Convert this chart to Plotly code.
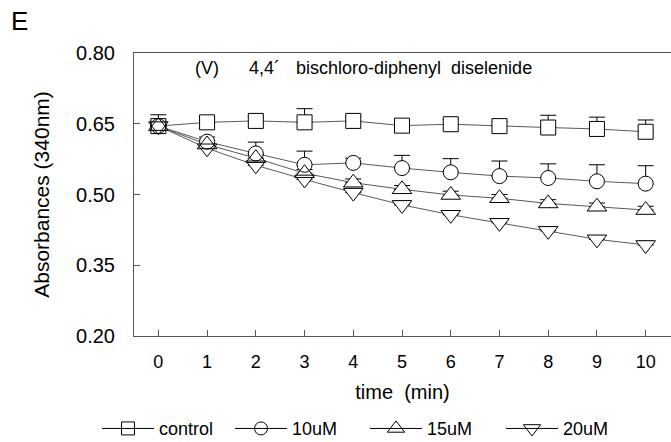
import plotly.graph_objects as go

# ---- data ----
time_min = [0, 1, 2, 3, 4, 5, 6, 7, 8, 9, 10]
x_ticks = [0, 1, 2, 3, 4, 5, 6, 7, 8, 9, 10]
y_ticks = [0.20, 0.35, 0.50, 0.65, 0.80]

series_names = ["control", "10uM", "15uM", "20uM"]
control = [0.645, 0.653, 0.656, 0.653, 0.656, 0.646, 0.649, 0.645, 0.642, 0.639, 0.633]
uM10 = [0.645, 0.612, 0.587, 0.563, 0.567, 0.556, 0.547, 0.539, 0.535, 0.528, 0.523]
uM15 = [0.645, 0.606, 0.577, 0.545, 0.525, 0.511, 0.499, 0.492, 0.481, 0.474, 0.467]
uM20 = [0.645, 0.598, 0.562, 0.532, 0.504, 0.478, 0.457, 0.440, 0.423, 0.405, 0.393]

err_control = [0.024, 0.010, 0.010, 0.029, 0.010, 0.010, 0.010, 0.010, 0.026, 0.025, 0.025]
err_10uM = [0.010, 0.010, 0.024, 0.029, 0.010, 0.027, 0.029, 0.032, 0.030, 0.035, 0.038]
err_15uM = [0.010, 0.008, 0.008, 0.008, 0.008, 0.008, 0.008, 0.008, 0.008, 0.008, 0.008]
err_20uM = [0.010, 0.008, 0.008, 0.008, 0.008, 0.008, 0.008, 0.008, 0.008, 0.008, 0.008]

values = [control, uM10, uM15, uM20]
errors = [err_control, err_10uM, err_15uM, err_20uM]
symbols = ["square", "circle", "triangle-up", "triangle-down"]
sizes = [15, 15, 17, 17]

FONT = "Liberation Sans, Arial, sans-serif"
LINE_GRAY = "#5a5a5a"
AXIS_GRAY = "#555555"

fig = go.Figure()

# connecting lines + upward error bars
for name, y, e in zip(series_names, values, errors):
    fig.add_trace(go.Scatter(
        x=time_min, y=y, mode="lines", showlegend=False, hoverinfo="skip",
        line=dict(color=LINE_GRAY, width=1),
        error_y=dict(type="data", symmetric=False, array=e,
                     arrayminus=[0] * len(e), color="black",
                     thickness=1, width=8),
    ))

# white-filled markers to hide lines inside markers
for name, y, s, sz in zip(series_names, values, symbols, sizes):
    fig.add_trace(go.Scatter(
        x=time_min, y=y, mode="markers", showlegend=False, hoverinfo="skip",
        marker=dict(symbol=s, size=sz, color="white",
                    line=dict(color="white", width=0)),
    ))

# open outlines on top (so overlapping outlines remain visible)
for name, y, s, sz in zip(series_names, values, symbols, sizes):
    fig.add_trace(go.Scatter(
        x=time_min, y=y, mode="markers", showlegend=False, name=name,
        marker=dict(symbol=s + "-open", size=sz, color="black",
                    line=dict(color="black", width=1)),
    ))

# legend entries, each in its own legend box laid out in one row
legend_ids = ["legend", "legend2", "legend3", "legend4"]
for name, s, sz, lid in zip(series_names, symbols, sizes, legend_ids):
    fig.add_trace(go.Scatter(
        x=[None], y=[None], mode="lines+markers", name=name, legend=lid,
        line=dict(color="black", width=1),
        marker=dict(symbol=s + "-open", size=sz - 2, color="black",
                    line=dict(color="black", width=1)),
    ))

legend_left_px = [97, 230, 365, 501]
legend_common = dict(
    orientation="h", xref="container", yref="container",
    y=0.03, xanchor="left", yanchor="middle",
    font=dict(size=18), itemwidth=52, bgcolor="rgba(0,0,0,0)",
)

layout_legends = {}
for lid, px in zip(legend_ids, legend_left_px):
    layout_legends[lid] = dict(x=px / 671, **legend_common)

fig.update_layout(
    width=671, height=442,
    margin=dict(l=134, r=0, t=53, b=106),
    paper_bgcolor="white", plot_bgcolor="white",
    font=dict(family=FONT, size=18, color="black"),
    showlegend=True,
    **layout_legends,
    xaxis=dict(
        range=[-0.5, 10.52], tickmode="array", tickvals=x_ticks,
        ticktext=[str(v) for v in x_ticks],
        ticks="inside", ticklen=6, tickcolor=AXIS_GRAY,
        showline=True, linecolor=AXIS_GRAY, linewidth=1, mirror=True,
        showgrid=False, zeroline=False, automargin=False,
        tickfont=dict(size=18), ticklabelstandoff=9,
        title=dict(text="time  (min)", font=dict(size=20), standoff=14),
    ),
    yaxis=dict(
        range=[0.2, 0.8], tickmode="array", tickvals=y_ticks,
        ticktext=["%.2f" % v for v in y_ticks],
        ticks="inside", ticklen=6, tickcolor=AXIS_GRAY,
        showline=True, linecolor=AXIS_GRAY, linewidth=1, mirror=False,
        showgrid=False, zeroline=False, automargin=False,
        tickfont=dict(size=20), ticklabelstandoff=14,
        title=dict(text="Absorbances (340nm)", font=dict(size=21), standoff=20),
    ),
    annotations=[
        dict(text="E", xref="paper", yref="paper", x=-0.232, y=1.113,
             xanchor="left", yanchor="middle", showarrow=False,
             font=dict(size=26)),
        dict(text="(V)", xref="paper", yref="paper", x=0.1099, y=0.947,
             xanchor="left", yanchor="middle", showarrow=False,
             font=dict(size=18)),
        dict(text="4,4\u00b4", xref="paper", yref="paper", x=0.2104, y=0.947,
             xanchor="left", yanchor="middle", showarrow=False,
             font=dict(size=18)),
        dict(text="bischloro-diphenyl\u00a0 diselenide", xref="paper", yref="paper",
             x=0.298, y=0.947, xanchor="left", yanchor="middle", showarrow=False,
             font=dict(size=18)),
    ],
)

fig.write_html("out.html")
